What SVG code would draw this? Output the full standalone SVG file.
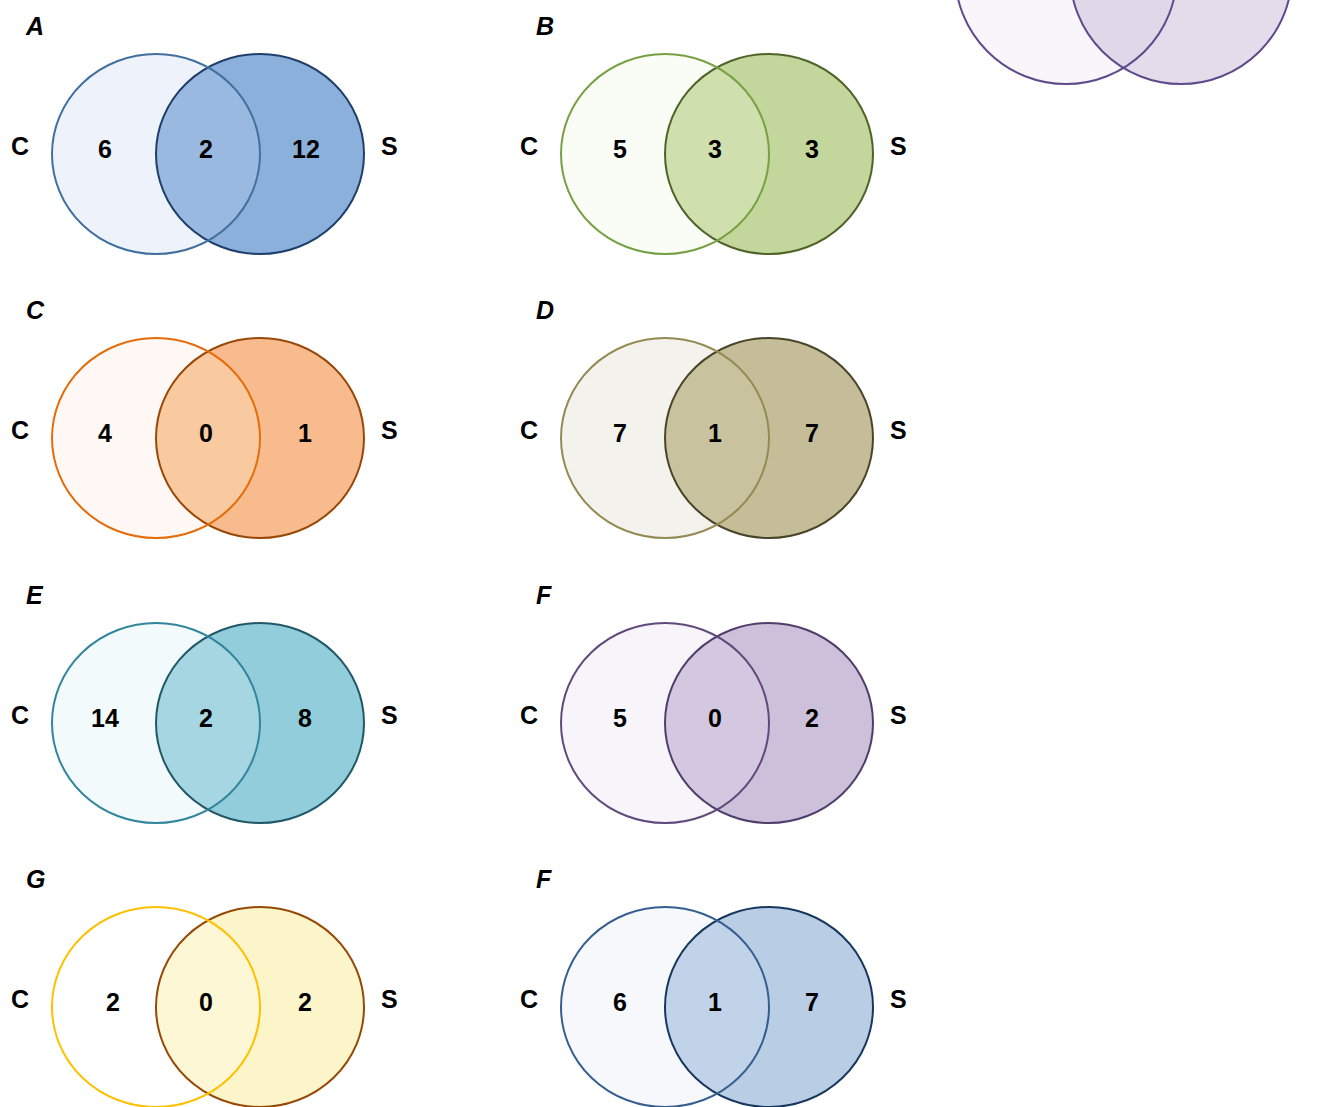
<svg xmlns="http://www.w3.org/2000/svg" width="1341" height="1107" viewBox="0 0 1341 1107">
<style>
.t{font-family:"Liberation Sans","Open Sans",Arial,sans-serif;font-weight:bold;font-size:25px;fill:#000}
.n{text-anchor:middle}
.p{font-style:italic;font-size:25px}
.s{stroke-width:2}
</style>
<defs>
<path id="lens" d="M208 67.4A104 100 0 0 1 208 240.6A104 100 0 0 1 208 67.4Z"/>
</defs>
<rect width="1341" height="1107" fill="#fff"/>
<g id="partial">
<circle cx="1181" cy="-27" r="111" fill="#e4dcea"/>
<circle cx="1066" cy="-27" r="111" fill="#f8f6fa"/>
<path d="M1123.5 68A111 111 0 0 0 1123.5 -122A111 111 0 0 0 1123.5 68Z" fill="#e0d8e8"/>
<circle cx="1181" cy="-27" r="111" fill="none" stroke="#5f4b8b" stroke-width="2"/>
<circle cx="1066" cy="-27" r="111" fill="none" stroke="#5f4b8b" stroke-width="2"/>
</g>
<g id="panelA">
<ellipse cx="260" cy="154" rx="104" ry="100" fill="#8cb0dc"/>
<ellipse cx="156" cy="154" rx="104" ry="100" fill="#eef3fb"/>
<use href="#lens" fill="#9ab9e0"/>
<ellipse class="s" cx="260" cy="154" rx="104" ry="100" fill="none" stroke="#1f3f6b"/>
<ellipse class="s" cx="156" cy="154" rx="104" ry="100" fill="none" stroke="#41709f"/>
<text class="t p" x="26" y="35">A</text>
<text class="t" x="11" y="155">C</text><text class="t" x="381" y="155">S</text>
<text class="t n" x="105" y="158">6</text><text class="t n" x="206" y="158">2</text><text class="t n" x="306" y="158">12</text>
</g>
<g id="panelB" transform="translate(509 0)">
<ellipse cx="260" cy="154" rx="104" ry="100" fill="#c3d69b"/>
<ellipse cx="156" cy="154" rx="104" ry="100" fill="#fafcf6"/>
<use href="#lens" fill="#cfdfae"/>
<ellipse class="s" cx="260" cy="154" rx="104" ry="100" fill="none" stroke="#4f6228"/>
<ellipse class="s" cx="156" cy="154" rx="104" ry="100" fill="none" stroke="#77a043"/>
<text class="t p" x="27" y="35">B</text>
<text class="t" x="11" y="155">C</text><text class="t" x="381" y="155">S</text>
<text class="t n" x="111" y="158">5</text><text class="t n" x="206" y="158">3</text><text class="t n" x="303" y="158">3</text>
</g>
<g id="panelC" transform="translate(0 284)">
<ellipse cx="260" cy="154" rx="104" ry="100" fill="#f7bb8d"/>
<ellipse cx="156" cy="154" rx="104" ry="100" fill="#fff8f4"/>
<use href="#lens" fill="#f9c9a0"/>
<ellipse class="s" cx="260" cy="154" rx="104" ry="100" fill="none" stroke="#984807"/>
<ellipse class="s" cx="156" cy="154" rx="104" ry="100" fill="none" stroke="#e46c0a"/>
<text class="t p" x="26" y="35">C</text>
<text class="t" x="11" y="155">C</text><text class="t" x="381" y="155">S</text>
<text class="t n" x="105" y="158">4</text><text class="t n" x="206" y="158">0</text><text class="t n" x="305" y="158">1</text>
</g>
<g id="panelD" transform="translate(509 284)">
<ellipse cx="260" cy="154" rx="104" ry="100" fill="#c4bd97"/>
<ellipse cx="156" cy="154" rx="104" ry="100" fill="#f3f2ec"/>
<use href="#lens" fill="#c9c29f"/>
<ellipse class="s" cx="260" cy="154" rx="104" ry="100" fill="none" stroke="#494429"/>
<ellipse class="s" cx="156" cy="154" rx="104" ry="100" fill="none" stroke="#948a54"/>
<text class="t p" x="27" y="35">D</text>
<text class="t" x="11" y="155">C</text><text class="t" x="381" y="155">S</text>
<text class="t n" x="111" y="158">7</text><text class="t n" x="206" y="158">1</text><text class="t n" x="303" y="158">7</text>
</g>
<g id="panelE" transform="translate(0 569)">
<ellipse cx="260" cy="154" rx="104" ry="100" fill="#92cddc"/>
<ellipse cx="156" cy="154" rx="104" ry="100" fill="#f3fafc"/>
<use href="#lens" fill="#a6d6e2"/>
<ellipse class="s" cx="260" cy="154" rx="104" ry="100" fill="none" stroke="#205867"/>
<ellipse class="s" cx="156" cy="154" rx="104" ry="100" fill="none" stroke="#31859c"/>
<text class="t p" x="26" y="35">E</text>
<text class="t" x="11" y="155">C</text><text class="t" x="381" y="155">S</text>
<text class="t n" x="105" y="158">14</text><text class="t n" x="206" y="158">2</text><text class="t n" x="305" y="158">8</text>
</g>
<g id="panelF" transform="translate(509 569)">
<ellipse cx="260" cy="154" rx="104" ry="100" fill="#ccc0da"/>
<ellipse cx="156" cy="154" rx="104" ry="100" fill="#f7f5fa"/>
<use href="#lens" fill="#d3c8e0"/>
<ellipse class="s" cx="260" cy="154" rx="104" ry="100" fill="none" stroke="#4f3d6b"/>
<ellipse class="s" cx="156" cy="154" rx="104" ry="100" fill="none" stroke="#604a7b"/>
<text class="t p" x="27" y="35">F</text>
<text class="t" x="11" y="155">C</text><text class="t" x="381" y="155">S</text>
<text class="t n" x="111" y="158">5</text><text class="t n" x="206" y="158">0</text><text class="t n" x="303" y="158">2</text>
</g>
<g id="panelG" transform="translate(0 853)">
<ellipse cx="260" cy="154" rx="104" ry="100" fill="#fcf5c9"/>
<ellipse cx="156" cy="154" rx="104" ry="100" fill="#ffffff"/>
<use href="#lens" fill="#fdf7d6"/>
<ellipse class="s" cx="260" cy="154" rx="104" ry="100" fill="none" stroke="#974806"/>
<ellipse class="s" cx="156" cy="154" rx="104" ry="100" fill="none" stroke="#ffc000"/>
<text class="t p" x="26" y="35">G</text>
<text class="t" x="11" y="155">C</text><text class="t" x="381" y="155">S</text>
<text class="t n" x="113" y="158">2</text><text class="t n" x="206" y="158">0</text><text class="t n" x="305" y="158">2</text>
</g>
<g id="panelF2" transform="translate(509 853)">
<ellipse cx="260" cy="154" rx="104" ry="100" fill="#b9cde5"/>
<ellipse cx="156" cy="154" rx="104" ry="100" fill="#f6f8fc"/>
<use href="#lens" fill="#c1d3e8"/>
<ellipse class="s" cx="260" cy="154" rx="104" ry="100" fill="none" stroke="#17375e"/>
<ellipse class="s" cx="156" cy="154" rx="104" ry="100" fill="none" stroke="#365f91"/>
<text class="t p" x="27" y="35">F</text>
<text class="t" x="11" y="155">C</text><text class="t" x="381" y="155">S</text>
<text class="t n" x="111" y="158">6</text><text class="t n" x="206" y="158">1</text><text class="t n" x="303" y="158">7</text>
</g>
</svg>
